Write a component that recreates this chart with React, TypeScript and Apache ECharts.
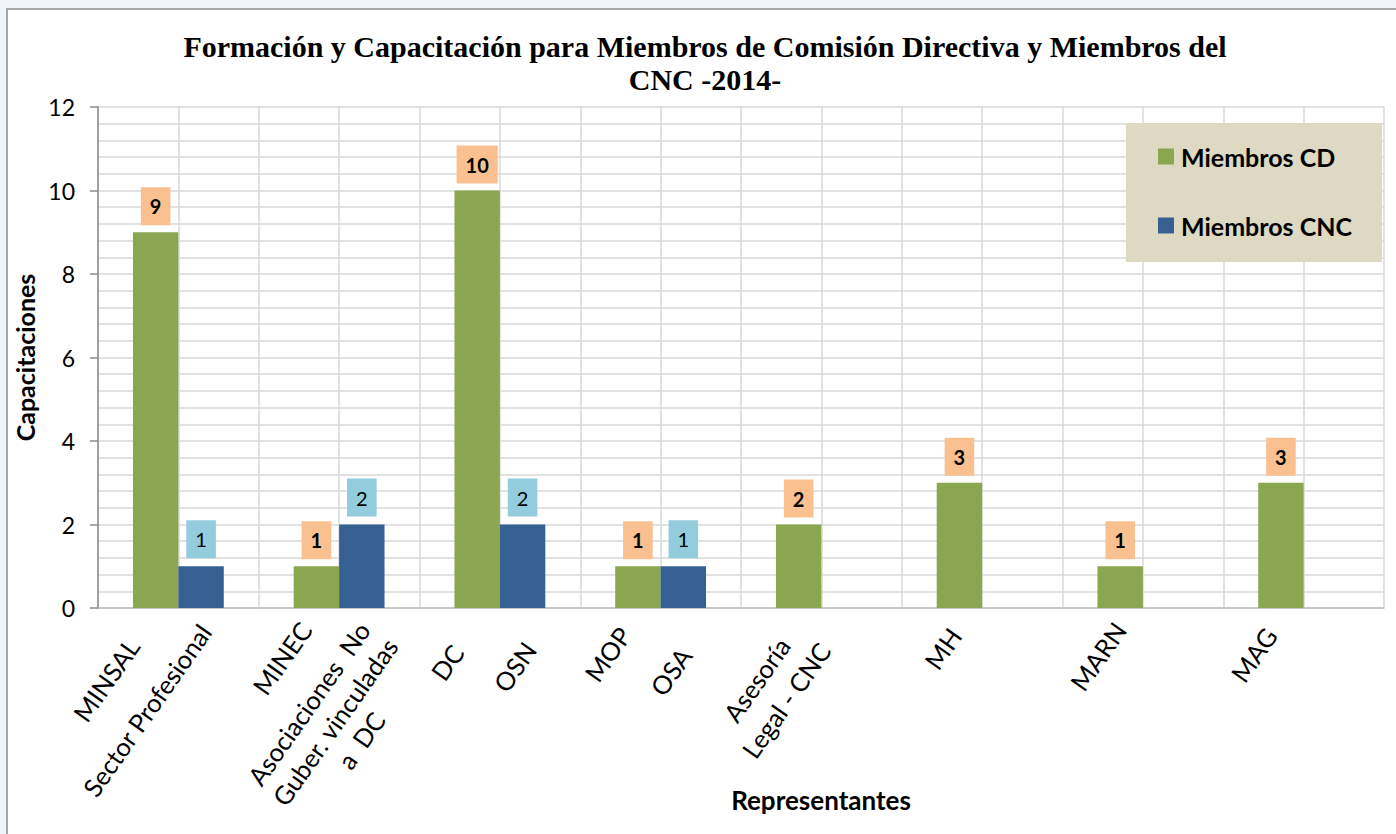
import React, { useEffect, useRef } from "react";
import * as echarts from "echarts";

const groups = [
  "MINSAL / Sector Profesional",
  "MINEC / Asociaciones No Guber. vinculadas a DC",
  "DC / OSN",
  "MOP / OSA",
  "Asesoría Legal - CNC",
  "MH",
  "MARN",
  "MAG",
];
const tickLabels = [
  "MINSAL",
  "Sector Profesional",
  "MINEC",
  "Asociaciones  No\nGuber. vinculadas\na  DC",
  "DC",
  "OSN",
  "MOP",
  "OSA",
  "Asesoría\nLegal - CNC",
  "",
  "MH",
  "",
  "MARN",
  "",
  "MAG",
  "",
];
const miembrosCD = [9, 1, 10, 1, 2, 3, 1, 3];
const miembrosCNC: (number | null)[] = [1, 2, 2, 1, null, null, null, null];
const yTicks = [0, 2, 4, 6, 8, 10, 12];

// label offsets (style only): [top, right, bottom, left]
const labelPad: number[][] = [
  [-22, 89, 0, 0],
  [-37, 184, 0, 0],
  [-22, 36, 0, 0],
  [-42, 172, 0, 0],
  [-16, 38, 0, 0],
  [-24, 60, 0, 0],
  [-21, 25, 0, 0],
  [-25, 73, 0, 0],
  [-20, 80, 0, 0],
  [-14, 0, 0, 0],
  [-13, 0, 0, 0],
  [-14, 0, 0, 0],
  [-13, 19, 0, 0],
  [-14, 0, 0, 0],
  [-18, 22, 0, 0],
  [-14, 0, 0, 0],
];
const labelLH = [28, 28, 28, 32, 28, 28, 28, 28, 36, 28, 28, 28, 28, 28, 28, 28];

const FONT = "Lato";
const GRID = "#d9d9d9";

export default function App() {
  const ref = useRef<HTMLDivElement>(null);
  useEffect(() => {
    if (!ref.current) return;
    const chart = echarts.init(ref.current, null, { renderer: "svg" });
    chart.setOption({
      animation: false,
      backgroundColor: "#f1f4f8",
      title: {
        text: "Formación y Capacitación para Miembros de Comisión Directiva y Miembros del\nCNC -2014-",
        left: 705,
        top: 30,
        textAlign: "center",
        padding: 0,
        textStyle: {
          fontFamily: "Liberation Serif",
          fontWeight: "bold",
          fontSize: 30,
          lineHeight: 33,
          color: "#000",
        },
      },
      graphic: [
        {
          type: "rect",
          z: -10,
          shape: { x: 7, y: 9, width: 1400, height: 830 },
          style: { fill: "#ffffff", stroke: "#8c8c8c", lineWidth: 1.5 },
        },
        {
          type: "rect",
          z: 3,
          shape: { x: 1126, y: 123, width: 256, height: 139 },
          style: { fill: "#ddd9c3" },
        },
      ],
      legend: {
        orient: "vertical",
        left: 1158,
        top: 144,
        padding: 0,
        itemWidth: 16,
        itemHeight: 16,
        itemGap: 44,
        icon: "rect",
        textStyle: {
          fontFamily: FONT,
          fontWeight: "bold",
          fontSize: 25,
          lineHeight: 24,
          color: "#000",
          padding: [0, 0, 0, 2],
        },
        data: ["Miembros CD", "Miembros CNC"],
      },
      grid: {
        left: 98,
        right: 12,
        top: 107,
        bottom: 226,
        outerBoundsMode: "none",
      },
      xAxis: [
        {
          type: "category",
          data: groups,
          position: "bottom",
          axisLine: { show: true, lineStyle: { color: "#bfbfbf", width: 1.5 } },
          axisTick: { show: false },
          axisLabel: { show: false },
          splitLine: { show: false },
          name: "Representantes",
          nameLocation: "middle",
          nameGap: 192,
          nameTextStyle: {
            fontFamily: FONT,
            fontWeight: "bold",
            fontSize: 26,
            color: "#000",
            verticalAlign: "middle",
            padding: [0, 0, 0, 160],
          },
        },
        {
          type: "category",
          position: "bottom",
          data: tickLabels.map((t, i) => ({
            value: t,
            textStyle: {
              fontFamily: FONT,
              fontSize: 25.5,
              color: "#000",
              align: "center",
              verticalAlign: "top",
              padding: labelPad[i],
              lineHeight: labelLH[i],
            },
          })),
          axisLine: { show: false },
          axisTick: { show: false },
          splitLine: { show: true, lineStyle: { color: GRID, width: 1.5 } },
          axisLabel: {
            interval: 0,
            rotate: 55,
            margin: 40,
            fontFamily: FONT,
            fontSize: 25.5,
            color: "#000",
          },
        },
      ],
      yAxis: {
        type: "value",
        min: yTicks[0],
        max: yTicks[yTicks.length - 1],
        interval: 2,
        name: "Capacitaciones",
        nameLocation: "middle",
        nameGap: 58,
        nameTextStyle: {
          fontFamily: FONT,
          fontWeight: "bold",
          fontSize: 25,
          color: "#000",
        },
        axisLine: { show: true, lineStyle: { color: "#8c8c8c", width: 1.5 } },
        axisTick: { show: true, length: 8, lineStyle: { color: "#8c8c8c", width: 1.5 } },
        axisLabel: { margin: 23, fontFamily: FONT, fontSize: 23, color: "#000" },
        splitLine: { show: true, lineStyle: { color: GRID, width: 1.5 } },
        minorTick: { show: false, splitNumber: 5 },
        minorSplitLine: { show: true, lineStyle: { color: GRID, width: 1.5 } },
      },
      series: [
        {
          name: "Miembros CD",
          type: "bar",
          xAxisIndex: 0,
          data: miembrosCD,
          barGap: "0%",
          barCategoryGap: "43.5%",
          itemStyle: { color: "#8aa650" },
          label: {
            show: true,
            position: "top",
            distance: 7,
            backgroundColor: "#fac090",
            padding: [8, 9, 8, 9],
            lineHeight: 22,
            fontFamily: FONT,
            fontWeight: "bold",
            fontSize: 20,
            color: "#000",
          },
        },
        {
          name: "Miembros CNC",
          type: "bar",
          xAxisIndex: 0,
          data: miembrosCNC,
          barGap: "0%",
          barCategoryGap: "43.5%",
          itemStyle: { color: "#376092" },
          label: {
            show: true,
            position: "top",
            distance: 8,
            backgroundColor: "#93cddd",
            padding: [8, 9, 8, 9],
            lineHeight: 22,
            fontFamily: FONT,
            fontSize: 20,
            color: "#000",
          },
        },
      ],
    });
    return () => chart.dispose();
  }, []);
  return (
    <div
      ref={ref}
      style={{ position: "fixed", left: 0, top: 0, width: 1396, height: 834 }}
    />
  );
}
